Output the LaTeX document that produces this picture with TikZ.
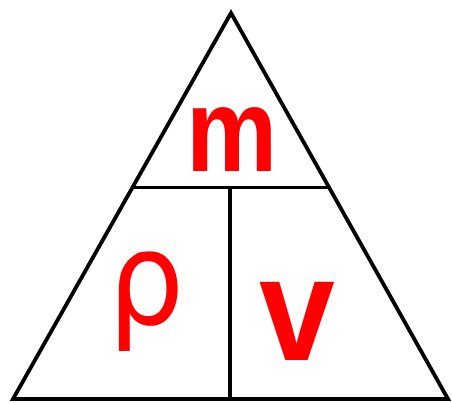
\documentclass[tikz,border=0pt]{standalone}
\usepackage{fontspec}
\usepackage{xcolor}
\usepackage{tikz}
\usetikzlibrary{calc}
\setmainfont{Liberation Sans}
\newfontfamily\greekfont{DejaVu Sans}
\definecolor{qtyred}{HTML}{FF0000}
\definecolor{edgeblack}{HTML}{000000}
\tikzset{
  edge/.style={draw=edgeblack, line width=3.8pt},
  qty/.style={text=qtyred, inner sep=0pt, anchor=base, transform shape},
}

\begin{document}
\begin{tikzpicture}[x=1pt, y=-1pt]
  \useasboundingbox (0,0) rectangle (452,403);

  \coordinate (apex) at (231,13);
  \coordinate (bl) at (13,399);
  \coordinate (br) at (448,399);
  \coordinate (cl) at ($(apex)!0.453!(bl)$);
  \coordinate (cr) at ($(apex)!0.453!(br)$);
  \coordinate (cm) at (230,188);

  \draw[edge] (apex) -- (bl) -- (br) -- cycle;
  \draw[edge, line width=3.2pt] (cl) -- (cr);
  \draw[edge, line width=3.2pt] (cm) -- (cm |- bl);

  \node[qty, xscale=0.82, yscale=0.95, font=\fontsize{125}{125}\selectfont\bfseries] (mass) at (232,172) {m};
  \node[qty, yscale=1.08, font=\fontsize{120}{120}\greekfont] (density) at (147,324) {ρ};
  \node[qty, xscale=0.92, font=\fontsize{148}{148}\selectfont\bfseries] (volume) at (297,360) {v};
\end{tikzpicture}
\end{document}
